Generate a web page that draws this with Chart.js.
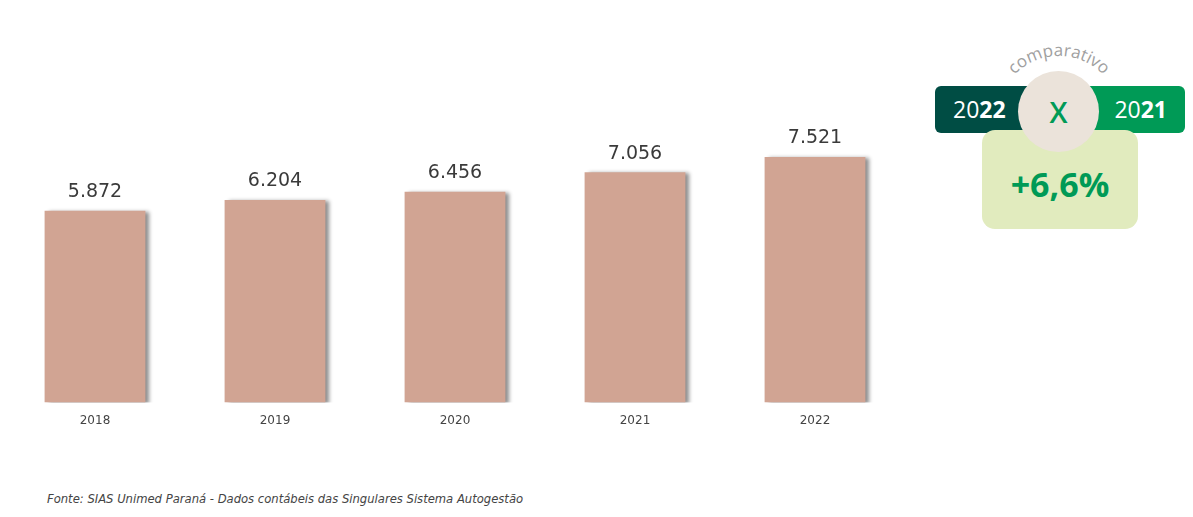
<!DOCTYPE html>
<html>
<head>
<meta charset="utf-8">
<script src="https://cdn.jsdelivr.net/npm/chart.js@4/dist/chart.umd.min.js"></script>
<style>
  body { margin: 0; background: #fff; width: 1193px; height: 517px; position: relative; overflow: hidden; font-family: "DejaVu Sans", sans-serif; }
  #wrap { position: absolute; left: 0; top: 0; width: 905px; height: 431px; }
  .box { position: absolute; font-family: "Open Sans", sans-serif; }
  #dark { left: 935px; top: 86px; width: 110px; height: 47px; background: #004d44; border-radius: 6px; color: #fff; font-size: 23px; line-height: 47px; padding-left: 18px; box-sizing: border-box; }
  #green { left: 1075px; top: 86px; width: 110px; height: 47px; background: #009a56; border-radius: 6px; color: #fff; font-size: 23px; line-height: 47px; text-align: right; padding-right: 18px; box-sizing: border-box; }
  #light { left: 982px; top: 130px; width: 156px; height: 99px; background: #e1ebbe; border-radius: 13px; color: #009a56; font-size: 34px; font-weight: bold; text-align: center; line-height: 108px; }
  #circle { left: 1018px; top: 71px; width: 81px; height: 81px; border-radius: 50%; background: #ebe3da; color: #009a56; font-size: 29px; font-weight: 600; text-align: center; line-height: 81px; }
  #arc { position: absolute; left: 988px; top: 30px; }
  #fonte { position: absolute; left: 47px; top: 492px; font-size: 11.6px; font-style: italic; color: #444; white-space: nowrap; }
</style>
</head>
<body>
<div id="wrap"><canvas id="myChart"></canvas></div>

<svg id="arc" width="140" height="100" viewBox="0 0 140 100">
  <defs><path id="curve" d="M 9 88 A 62 62 0 0 1 133 88"></path></defs>
  <text font-family="Open Sans, sans-serif" font-size="17" fill="#a0a0a0">
    <textPath href="#curve" startOffset="50%" text-anchor="middle">comparativo</textPath>
  </text>
</svg>
<div class="box" id="dark">20<b>22</b></div>
<div class="box" id="green">20<b>21</b></div>
<div class="box" id="light">+6,6%</div>
<div class="box" id="circle">X</div>

<div id="fonte">Fonte: SIAS Unimed Paraná - Dados contábeis das Singulares Sistema Autogestão</div>

<script>
var years = ['2018', '2019', '2020', '2021', '2022'];
var values = [5872, 6204, 6456, 7056, 7521];

function fmt(v) {
    return String(v).replace(/\B(?=(\d{3})+(?!\d))/g, '.');
}

// sombra cinza do lado direito das barras
var barShadow = {
    id: 'barShadow',
    beforeDatasetDraw: function(chart) {
        var ctx = chart.ctx;
        ctx.save();
        ctx.shadowColor = 'rgba(0,0,0,0.45)';
        ctx.shadowOffsetX = 4;
        ctx.shadowOffsetY = 1;
        ctx.shadowBlur = 4;
    },
    afterDatasetDraw: function(chart) {
        chart.ctx.restore();
    }
};

// valores em cima das barras
var topLabels = {
    id: 'topLabels',
    afterDatasetsDraw: function(chart) {
        var ctx = chart.ctx;
        var meta = chart.getDatasetMeta(0);
        ctx.save();
        ctx.font = '19px "DejaVu Sans"';
        ctx.fillStyle = '#3a3a3a';
        ctx.textAlign = 'center';
        ctx.textBaseline = 'bottom';
        meta.data.forEach(function(bar, i) {
            ctx.fillText(fmt(values[i]), bar.x, bar.y - 9);
        });
        ctx.restore();
    }
};

var ctx = document.getElementById('myChart').getContext('2d');

var myChart = new Chart(ctx, {
    type: 'bar',
    data: {
        labels: years,
        datasets: [{
            data: values,
            backgroundColor: '#d1a493',
            borderWidth: 0,
            barPercentage: 0.8,
            categoryPercentage: 0.7
        }]
    },
    options: {
        responsive: true,
        maintainAspectRatio: false,
        animation: false,
        layout: { padding: { left: 5, top: 76, right: 0, bottom: 0 } },
        plugins: {
            legend: { display: false },
            tooltip: { enabled: false }
        },
        scales: {
            x: {
                grid: { display: false },
                border: { display: false },
                ticks: {
                    color: '#444',
                    padding: 3,
                    font: { family: 'DejaVu Sans', size: 12 }
                }
            },
            y: {
                display: false,
                min: 0,
                max: 10000
            }
        }
    },
    plugins: [barShadow, topLabels]
});
</script>
</body>
</html>
